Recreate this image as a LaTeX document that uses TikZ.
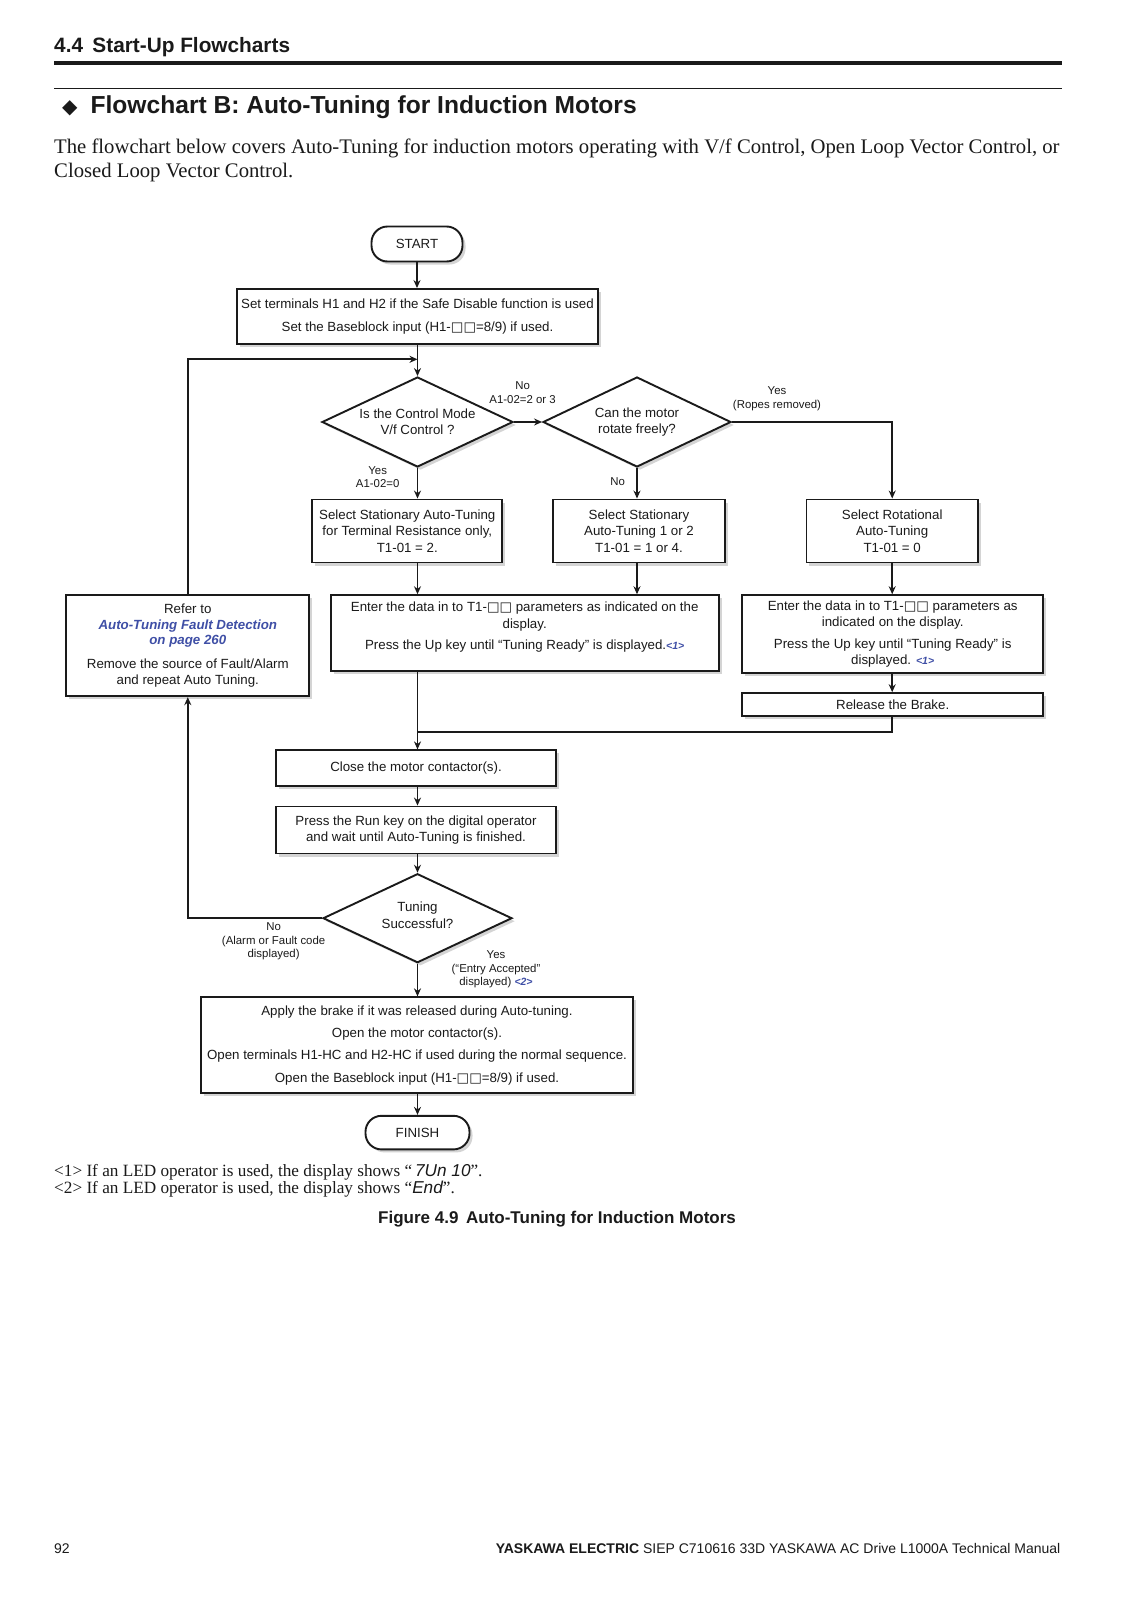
\documentclass[tikz,border=0pt]{standalone}
\usepackage{fontspec}
\setmainfont{Liberation Serif}
\setsansfont{Liberation Sans}
\newfontfamily\symfont{DejaVu Sans}
\usetikzlibrary{arrows.meta,positioning,calc,shapes.geometric,shadows}
\definecolor{ink}{HTML}{1A1A1A}
\definecolor{linkblue}{HTML}{3F4FA6}
\definecolor{shade}{HTML}{A0A0A0}
\newcommand{\chartfont}{\sffamily\fontsize{13.3}{16.3}\selectfont}
\newcommand{\tagfont}{\sffamily\fontsize{11.4}{13.5}\selectfont}
\newcommand{\sqs}{{\symfont □□}}
\newcommand{\ledref}[1]{{\color{linkblue}\bfseries\itshape\fontsize{10.5}{10.5}\selectfont<#1>}}
\newcommand{\ledtext}[1]{{\sffamily\slshape #1}}

\begin{document}
\begin{tikzpicture}[x=1pt,y=-1pt,
  flow/.style={draw=ink,line width=1.9pt},
  arr/.style={flow,-{Stealth[length=8pt,width=7pt]}},
  box/.style={draw=ink,line width=1.9pt,fill=white,align=center,inner sep=0pt,
    text=ink,font=\chartfont,
    drop shadow={shadow xshift=3pt,shadow yshift=-3pt,fill=shade,opacity=.45}},
  term/.style={box,rounded corners=16pt},
  ask/.style={box,diamond,aspect=2.1},
  tag/.style={font=\tagfont,text=ink,align=center,inner sep=0pt}]
  \useasboundingbox[fill=white] (0,0) rectangle (1132,1601);

  \node[anchor=west,text=ink,inner sep=0pt,font=\sffamily\bfseries\fontsize{20.8}{24}\selectfont]
    (sect) at (54,47) {4.4\hspace{0.45em}Start-Up Flowcharts};
  \draw[ink,line width=4pt] (54,63.3) -- (1062,63.3);
  \draw[ink,line width=1.3pt] (54,88.8) -- (1062,88.8);
  \node[anchor=west,text=ink,inner sep=0pt,font=\sffamily\bfseries\fontsize{24.6}{28}\selectfont]
    (title) at (62,107) {{\symfont\fontsize{20}{20}\selectfont ◆}\hspace{13pt}Flowchart B: Auto-Tuning for Induction Motors};
  \node[anchor=west,text=ink,inner sep=0pt,font=\rmfamily\fontsize{20.7}{24.5}\selectfont]
    (intro1) at (54,148) {The flowchart below covers Auto-Tuning for induction motors operating with V/f Control, Open Loop Vector Control, or};
  \node[anchor=west,text=ink,inner sep=0pt,font=\rmfamily\fontsize{20.7}{24.5}\selectfont]
    (intro2) at (54,172.5) {Closed Loop Vector Control.};

  \node[term,minimum width=91pt,minimum height=35pt] (start) at (417,244) {START};
  \node[box,minimum width=361pt,minimum height=55pt] (setup) at (417.5,316.5)
    {Set terminals H1 and H2 if the Safe Disable function is used\\[6pt]
     Set the Baseblock input (H1-\sqs=8/9) if used.};
  \coordinate (loopin) at (417.5,359.3);

  \node[ask,minimum width=191pt,minimum height=90pt] (ctrl) at (417.5,422)
    {Is the Control Mode\\V/f Control ?};
  \node[ask,minimum width=188pt,minimum height=90pt] (free) at (637,422)
    {Can the motor\\rotate freely?};
  \node[tag] (nolbl) at (522.6,392.5) {No\\A1-02=2 or 3};
  \node[tag] (ropes) at (777,399) {Yes\\(Ropes removed)};
  \node[tag] (vflbl) at (377.7,477.2) {Yes\\A1-02=0};
  \node[tag] (fixed) at (617.6,481.8) {No};

  \node[box,minimum width=190pt,minimum height=63pt] (selres) at (407.3,531)
    {Select Stationary Auto-Tuning\\for Terminal Resistance only,\\T1-01 = 2.};
  \node[box,minimum width=171.5pt,minimum height=63pt] (selstat) at (639,531)
    {Select Stationary\\Auto-Tuning 1 or 2\\T1-01 = 1 or 4.};
  \node[box,minimum width=171.5pt,minimum height=63pt] (selrot) at (892.2,531)
    {Select Rotational\\Auto-Tuning\\T1-01 = 0};

  \node[box,minimum width=243pt,minimum height=101pt] (refer) at (187.8,645.7)
    {Refer to\\{\color{linkblue}\bfseries\itshape Auto-Tuning Fault Detection}\\[-2pt]
     {\color{linkblue}\bfseries\itshape on page 260}\\[8pt]
     Remove the source of Fault/Alarm\\and repeat Auto Tuning.};
  \node[box,minimum width=388pt,minimum height=75.6pt] (enter1) at (524.7,633)
    {Enter the data in to T1-\sqs{} parameters as indicated on the\\display.\\[5pt]
     Press the Up key until “Tuning Ready” is displayed.\ledref{1}\\[-2pt]};
  \node[box,minimum width=301pt,minimum height=77.6pt] (enter2) at (892.7,634)
    {Enter the data in to T1-\sqs{} parameters as\\indicated on the display.\\[5pt]
     Press the Up key until “Tuning Ready” is\\displayed. \ledref{1}};
  \node[box,minimum width=301pt,minimum height=22.5pt] (brake) at (892.7,704.4)
    {Release the Brake.};
  \coordinate (merge) at (417.5,732);

  \node[box,minimum width=280.7pt,minimum height=35.7pt] (close) at (416,768.2)
    {Close the motor contactor(s).};
  \node[box,minimum width=280.7pt,minimum height=47pt] (runkey) at (416,830)
    {Press the Run key on the digital operator\\and wait until Auto-Tuning is finished.};
  \node[ask,minimum width=189pt,minimum height=89pt] (tuned) at (417.5,918.2)
    {Tuning\\Successful?\\[-10pt]};
  \node[tag] (faillbl) at (273.6,941.5) {No\\(Alarm or Fault code\\displayed)};
  \node[tag] (oklbl) at (496,969.5) {Yes\\(“Entry Accepted”\\displayed) \ledref{2}};
  \node[box,minimum width=432pt,minimum height=96pt] (wrapup) at (417,1045.3)
    {Apply the brake if it was released during Auto-tuning.\\[6pt]
     Open the motor contactor(s).\\[6pt]
     Open terminals H1-HC and H2-HC if used during the normal sequence.\\[6pt]
     Open the Baseblock input (H1-\sqs=8/9) if used.};
  \node[term,minimum width=104pt,minimum height=33.6pt] (finish) at (417.5,1132.6) {FINISH};

  \draw[arr] (start.south) -- (start.south |- setup.north);
  \draw[arr] (setup.south) -- (ctrl.north);
  \draw[arr] (tuned.west) -| (refer.south);
  \draw[arr] (refer.north) |- (loopin);
  \draw[arr] (ctrl.east) -- (free.west);
  \draw[arr] (ctrl.south) -- (ctrl.south |- selres.north);
  \draw[arr] (free.south) -- (free.south |- selstat.north);
  \draw[arr] (free.east) -| (selrot.north);
  \draw[arr] (ctrl.south |- selres.south) -- (ctrl.south |- enter1.north);
  \draw[arr] (free.south |- selstat.south) -- (free.south |- enter1.north);
  \draw[arr] (selrot.south) -- (selrot.south |- enter2.north);
  \draw[arr] (selrot.south |- enter2.south) -- (selrot.south |- brake.north);
  \draw[flow] (selrot.south |- brake.south) |- (merge);
  \draw[arr] (ctrl.south |- enter1.south) -- (ctrl.south |- close.north);
  \draw[arr] (ctrl.south |- close.south) -- (ctrl.south |- runkey.north);
  \draw[arr] (ctrl.south |- runkey.south) -- (tuned.north);
  \draw[arr] (tuned.south) -- (tuned.south |- wrapup.north);
  \draw[arr] (tuned.south |- wrapup.south) -- (tuned.south |- finish.north);

  \node[anchor=west,text=ink,inner sep=0pt,font=\rmfamily\fontsize{17.2}{17.3}\selectfont]
    (note1) at (54,1172) {<1> If an LED operator is used, the display shows “\,\ledtext{7Un 10}”.};
  \node[anchor=west,text=ink,inner sep=0pt,font=\rmfamily\fontsize{17.2}{17.3}\selectfont]
    (note2) at (54,1189) {<2> If an LED operator is used, the display shows “\ledtext{End}”.};
  \node[text=ink,inner sep=0pt,font=\sffamily\bfseries\fontsize{17}{20}\selectfont]
    (caption) at (557,1218.8) {Figure 4.9\hspace{0.45em}Auto-Tuning for Induction Motors};

  \node[anchor=west,text=ink,inner sep=0pt,font=\sffamily\fontsize{14}{16}\selectfont]
    (pageno) at (54,1548.6) {92};
  \node[anchor=east,text=ink,inner sep=0pt,font=\sffamily\fontsize{14}{16}\selectfont]
    (footer) at (1060.6,1548.6) {\textbf{YASKAWA ELECTRIC} SIEP C710616 33D YASKAWA AC Drive L1000A Technical Manual};
\end{tikzpicture}
\end{document}
